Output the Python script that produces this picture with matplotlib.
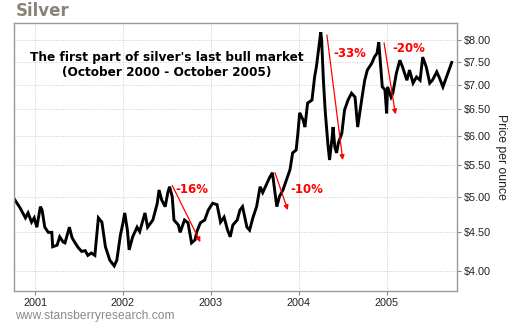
import matplotlib
matplotlib.use("Agg")
import matplotlib.pyplot as plt
from matplotlib.ticker import FixedLocator, NullLocator

# ---- data (decimal year, USD/oz) ----
years = [
    2000.77, 2000.83, 2000.89, 2000.92, 2000.96, 2000.99, 2001.02, 2001.06, 2001.08, 2001.11,
    2001.15, 2001.19, 2001.20, 2001.25, 2001.28, 2001.32, 2001.34, 2001.39, 2001.42, 2001.45,
    2001.49, 2001.53, 2001.57, 2001.60, 2001.64, 2001.68, 2001.72, 2001.76, 2001.80, 2001.85,
    2001.90, 2001.93, 2001.97, 2002.00, 2002.02, 2002.05, 2002.07, 2002.11, 2002.16, 2002.19,
    2002.25, 2002.28, 2002.34, 2002.39, 2002.41, 2002.44, 2002.48, 2002.51, 2002.53, 2002.56,
    2002.58, 2002.63, 2002.65, 2002.70, 2002.74, 2002.78, 2002.82, 2002.84, 2002.88, 2002.93,
    2002.97, 2003.02, 2003.07, 2003.11, 2003.15, 2003.19, 2003.22, 2003.25, 2003.30, 2003.33,
    2003.36, 2003.41, 2003.44, 2003.48, 2003.52, 2003.56, 2003.59, 2003.64, 2003.67, 2003.70,
    2003.75, 2003.78, 2003.82, 2003.86, 2003.90, 2003.93, 2003.97, 2003.99, 2004.01, 2004.05,
    2004.07, 2004.10, 2004.15, 2004.18, 2004.20, 2004.22, 2004.25, 2004.26, 2004.28, 2004.30,
    2004.32, 2004.33, 2004.35, 2004.38, 2004.39, 2004.41, 2004.43, 2004.45, 2004.49, 2004.52,
    2004.56, 2004.60, 2004.64, 2004.67, 2004.72, 2004.75, 2004.78, 2004.83, 2004.86, 2004.89,
    2004.91, 2004.95, 2004.98, 2005.00, 2005.01, 2005.05, 2005.07, 2005.11, 2005.15, 2005.18,
    2005.23, 2005.26, 2005.30, 2005.34, 2005.38, 2005.41, 2005.45, 2005.49, 2005.52, 2005.57,
    2005.60, 2005.64, 2005.68, 2005.70, 2005.74,
]
prices = [
    4.95, 4.83, 4.69, 4.76, 4.63, 4.69, 4.56, 4.85, 4.80, 4.56,
    4.49, 4.49, 4.30, 4.32, 4.43, 4.36, 4.35, 4.56, 4.42, 4.36,
    4.29, 4.24, 4.25, 4.19, 4.22, 4.19, 4.69, 4.63, 4.30, 4.13,
    4.06, 4.13, 4.45, 4.62, 4.76, 4.52, 4.26, 4.43, 4.56, 4.50,
    4.76, 4.56, 4.66, 4.90, 5.10, 4.95, 4.85, 5.06, 5.15, 5.00,
    4.66, 4.59, 4.49, 4.66, 4.62, 4.35, 4.39, 4.50, 4.62, 4.66,
    4.80, 4.90, 4.88, 4.63, 4.70, 4.52, 4.43, 4.59, 4.66, 4.80,
    4.85, 4.56, 4.52, 4.70, 4.85, 5.15, 5.06, 5.21, 5.30, 5.37,
    4.85, 5.00, 5.10, 5.26, 5.42, 5.70, 5.75, 6.05, 6.43, 6.29,
    6.16, 6.62, 6.68, 7.16, 7.38, 7.69, 8.19, 8.00, 7.09, 6.48,
    6.05, 5.87, 5.58, 5.98, 6.16, 5.80, 5.70, 5.87, 6.05, 6.48,
    6.68, 6.82, 6.74, 6.16, 6.74, 7.09, 7.31, 7.46, 7.60, 7.69,
    7.95, 6.95, 6.89, 6.42, 6.95, 6.74, 6.82, 7.24, 7.53, 7.38,
    7.09, 7.31, 7.03, 7.16, 7.09, 7.60, 7.38, 7.03, 7.09, 7.27,
    7.14, 6.95, 7.16, 7.27, 7.48,
]

year_ticks = [2001, 2002, 2003, 2004, 2005]
year_labels = ["2001", "2002", "2003", "2004", "2005"]
price_ticks = [4.00, 4.50, 5.00, 5.50, 6.00, 6.50, 7.00, 7.50, 8.00]
price_labels = ["$4.00", "$4.50", "$5.00", "$5.50", "$6.00", "$6.50", "$7.00", "$7.50", "$8.00"]

# drawdowns: label, start (year, price), end (year, price), label anchor (year, price)
dd_labels = ["-16%", "-10%", "-33%", "-20%"]
dd_start = [(2002.56, 5.17), (2003.73, 5.37), (2004.32, 8.12), (2004.97, 7.93)]
dd_end = [(2002.88, 4.36), (2003.875, 4.80), (2004.50, 5.58), (2005.10, 6.40)]
dd_text = [(2002.60, 5.11), (2003.90, 5.11), (2004.39, 7.69), (2005.06, 7.81)]

# ---- figure ----
fig = plt.figure(figsize=(5.10, 3.25), dpi=100)
ax = fig.add_axes([14 / 510, 1 - 291 / 325, (457 - 14) / 510, (291 - 23) / 325])

ax.plot(years, prices, color="black", lw=2.1, solid_joinstyle="miter")

ax.set_yscale("log")
ax.set_xlim(2000.76, 2005.80)
ax.set_ylim(3.765, 8.42)

ax.yaxis.set_major_locator(FixedLocator(price_ticks))
ax.yaxis.set_minor_locator(NullLocator())
ax.set_yticklabels(price_labels)
ax.yaxis.tick_right()
ax.set_xticks(year_ticks)
ax.set_xticklabels(year_labels)

ax.tick_params(axis="both", which="major", labelsize=7.8, labelcolor="#222222",
               length=3, width=0.8, pad=2, color="#888888")
for lab in ax.get_xticklabels() + ax.get_yticklabels():
    lab.set_fontfamily("Liberation Sans")

ax.grid(True, which="major", color="#cccccc", linestyle=(0, (1, 1.5)), lw=0.7)
for s in ax.spines.values():
    s.set_color("#999999")
    s.set_linewidth(1.0)

for lab, st, en, tx in zip(dd_labels, dd_start, dd_end, dd_text):
    ax.annotate("", xy=en, xytext=st,
                arrowprops=dict(arrowstyle="-|>", color="red", lw=0.9,
                                mutation_scale=7, shrinkA=0, shrinkB=0))
    ax.text(tx[0], tx[1], lab, color="red", fontsize=8.5, fontweight="bold",
            ha="left", va="center", family="DejaVu Sans")

ax.text(0.345, 0.845, "The first part of silver's last bull market\n(October 2000 - October 2005)",
        transform=ax.transAxes, ha="center", va="center", fontsize=8.7,
        fontweight="bold", family="DejaVu Sans", linespacing=1.2, color="black")

fig.text(16 / 510, 1 - 11 / 325, "Silver", fontsize=12, fontweight="bold",
         color="#8a8478", ha="left", va="center", family="DejaVu Sans")
fig.text(501 / 510, 1 - 157 / 325, "Price per ounce", rotation=-90, fontsize=8.8,
         ha="center", va="center", family="Liberation Sans", color="#222222")
fig.text(15 / 510, 1 - 316 / 325, "www.stansberryresearch.com", fontsize=8.7,
         ha="left", va="center", family="Liberation Sans", color="#8a8a8a")

fig.savefig("out.png", dpi=100)
